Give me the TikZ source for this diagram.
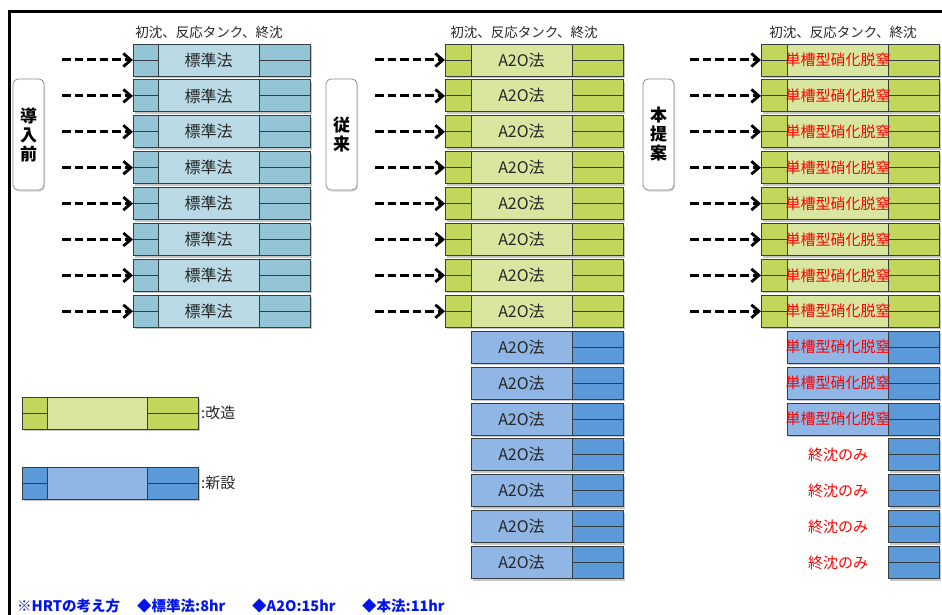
\documentclass[tikz,border=0pt]{standalone}
\usepackage{fontspec}
\setmainfont{Noto Sans CJK JP}
\usetikzlibrary{arrows.meta,shadows}
\definecolor{stdmid}{RGB}{185,218,229}
\definecolor{stdside}{RGB}{148,197,214}
\definecolor{grnmid}{RGB}{216,230,160}
\definecolor{grnside}{RGB}{195,214,92}
\definecolor{blumid}{RGB}{143,182,228}
\definecolor{bluside}{RGB}{92,153,217}
\definecolor{boxline}{RGB}{55,62,66}
\definecolor{notecol}{RGB}{0,20,235}
\newcommand{\tankrow}[8]{%
  \node[rowbox, fill=#8, minimum width={(#6-#3)*1pt}] (#1) at ({(#3+#6)/2},#2) {};
  \ifdim #3pt<#4pt
    \node[segbox, fill=#7, minimum width={(#4-#3)*1pt}] (#1-l) at ({(#3+#4)/2},#2) {};
    \draw[segline] (#1-l.west) -- (#1-l.east);
  \fi
  \node[segbox, fill=#7, minimum width={(#6-#5)*1pt}] (#1-r) at ({(#5+#6)/2},#2) {};
  \draw[segline] (#1-r.west) -- (#1-r.east);
}
\begin{document}
\begin{tikzpicture}[x=1pt,y=-1pt,
  rowbox/.style={draw=boxline, line width=0.9pt, minimum height=32pt, inner sep=0pt, outer sep=0pt,
    drop shadow={shadow xshift=1.5pt, shadow yshift=-2pt, fill=black, opacity=0.22}},
  segbox/.style={draw=boxline, line width=0.9pt, minimum height=32pt, inner sep=0pt, outer sep=0pt},
  segline/.style={draw=boxline, line width=0.9pt},
  tanktext/.style={font=\fontsize{16}{18}\selectfont, text=black!85, inner sep=0pt},
  redtext/.style={font=\fontsize{15}{17}\selectfont, text=red, inner sep=0pt},
  headtext/.style={font=\fontsize{13.5}{15}\selectfont, text=black!85, inner sep=0pt},
  legtext/.style={font=\fontsize{15}{17}\selectfont, text=black!85, inner sep=0pt, anchor=west},
  notetext/.style={font=\bfseries\fontsize{14.5}{16}\selectfont, text=notecol, inner sep=0pt, anchor=west},
  labelbox/.style={draw=black!45, rounded corners=5pt, fill=white, line width=0.8pt,
    minimum width=31pt, minimum height=111pt, inner sep=0pt, align=center,
    font=\bfseries\fontsize{17}{19}\selectfont,
    drop shadow={shadow xshift=1pt, shadow yshift=-1.5pt, fill=black, opacity=0.15}},
  dasharrow/.style={draw=black, line width=3pt, dash pattern=on 8.5pt off 4pt,
    -{Straight Barb[length=7.5pt,width=13pt,line width=2.8pt]}}
]
\useasboundingbox (0,0) rectangle (942,615);
\fill[white] (0,0) rectangle (942,615);
% frame
\draw[line width=3pt] (9,615) -- (9,12) -- (942,12);

% headers
\node[headtext] (h1) at (209,32) {初沈、反応タンク、終沈};
\node[headtext] (h2) at (524,32) {初沈、反応タンク、終沈};
\node[headtext] (h3) at (843,32) {初沈、反応タンク、終沈};

% side labels
\node[labelbox] (lab1) at (28.5,134.5) {導\\入\\前};
\node[labelbox] (lab2) at (341.5,134.5) {従\\来};
\node[labelbox] (lab3) at (658.5,134.5) {本\\提\\案};

% column 1
\foreach \i in {0,...,7}{
  \pgfmathsetmacro\yy{60+35.9*\i}
  \tankrow{s\i}{\yy}{133}{158}{259}{310}{stdside}{stdmid}
  \node[tanktext] (st\i) at (208.5,\yy) {標準法};
  \coordinate (sa\i) at (62,\yy);
  \draw[dasharrow] (sa\i) -- (s\i.west);
}
% column 2
\foreach \i in {0,...,7}{
  \pgfmathsetmacro\yy{60+35.9*\i}
  \tankrow{a\i}{\yy}{445}{471}{572}{623}{grnside}{grnmid}
  \node[tanktext] (at\i) at (521.5,\yy) {A2O法};
  \coordinate (aa\i) at (375,\yy);
  \draw[dasharrow] (aa\i) -- (a\i.west);
}
\foreach \i in {8,...,14}{
  \pgfmathsetmacro\yy{60+35.9*\i}
  \tankrow{a\i}{\yy}{471}{471}{572}{623}{bluside}{blumid}
  \node[tanktext] (at\i) at (521.5,\yy) {A2O法};
}
% column 3
\foreach \i in {0,...,7}{
  \pgfmathsetmacro\yy{60+35.9*\i}
  \tankrow{p\i}{\yy}{761}{787}{888}{939}{grnside}{grnmid}
  \node[redtext] (pt\i) at (838,\yy) {単槽型硝化脱窒};
  \coordinate (pa\i) at (690,\yy);
  \draw[dasharrow] (pa\i) -- (p\i.west);
}
\foreach \i in {8,...,10}{
  \pgfmathsetmacro\yy{60+35.9*\i}
  \tankrow{p\i}{\yy}{787}{787}{888}{939}{bluside}{blumid}
  \node[redtext] (pt\i) at (838,\yy) {単槽型硝化脱窒};
}
\foreach \i in {11,...,14}{
  \pgfmathsetmacro\yy{60+35.9*\i}
  \tankrow{p\i}{\yy}{888}{888}{888}{939}{bluside}{blumid}
  \node[redtext] (pt\i) at (838,\yy) {終沈のみ};
}

% legend
\tankrow{lg1}{413}{22}{47}{147}{198}{grnside}{grnmid}
\node[legtext] (lt1) at (201,413) {:改造};
\tankrow{lg2}{483}{22}{47}{147}{198}{bluside}{blumid}
\node[legtext] (lt2) at (201,483) {:新設};

% note
\node[notetext] (n1) at (17,606) {※HRTの考え方};
\node[notetext] (n2) at (137,606) {◆標準法:8hr};
\node[notetext] (n3) at (252,606) {◆A2O:15hr};
\node[notetext] (n4) at (362,606) {◆本法:11hr};
\end{tikzpicture}
\end{document}
